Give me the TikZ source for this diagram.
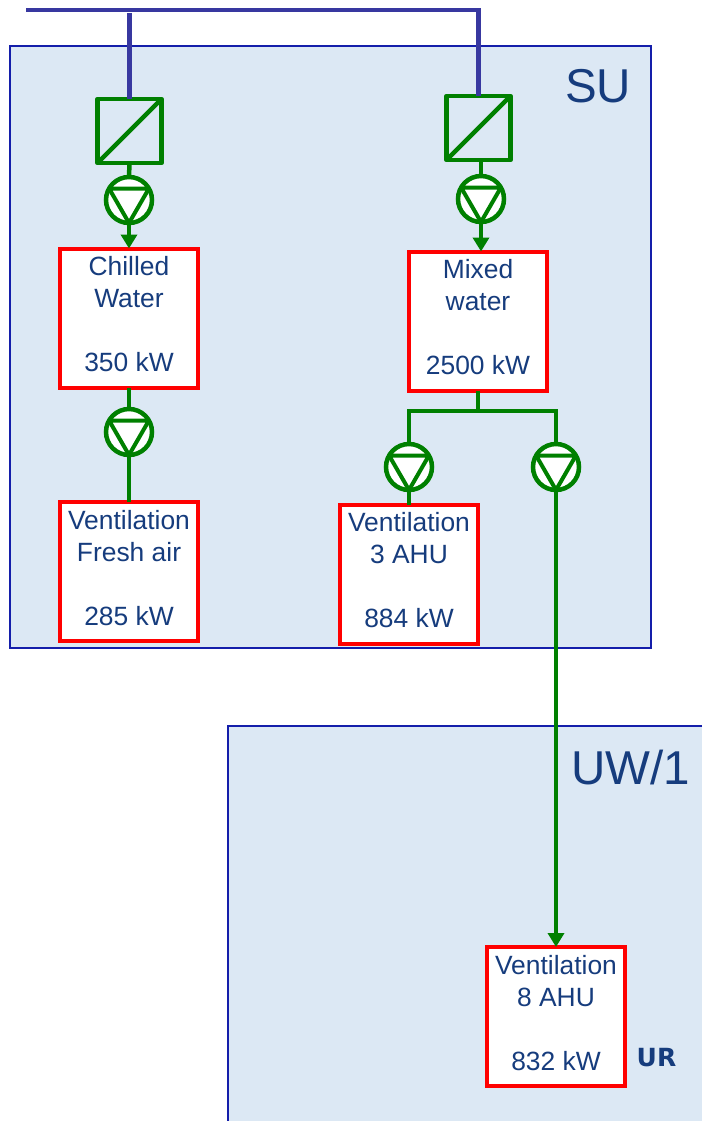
\documentclass[tikz,border=0pt]{standalone}
\usepackage{fontspec}
\setmainfont{Liberation Sans}
\newfontfamily\urfont[BoldFont={DejaVu Sans Bold}]{DejaVu Sans}
\usetikzlibrary{arrows.meta}
\definecolor{zonefill}{RGB}{220,232,244}
\definecolor{zoneline}{RGB}{20,30,170}
\definecolor{busline}{RGB}{56,56,160}
\definecolor{pipe}{RGB}{0,128,0}
\definecolor{txt}{RGB}{22,60,125}
\tikzset{
  x=1pt,y=-1pt,
  zoneedge/.style={draw=zoneline,line width=1.2pt},
  bus/.style={draw=busline,line width=4.5pt},
  pipeline/.style={draw=pipe,line width=4.5pt},
  flow/.style={pipeline,-{Triangle[length=14pt,width=16pt]}},
  load/.style={draw=red,fill=white,line width=4pt,minimum width=138pt,minimum height=139pt,inner sep=0pt,outer sep=0pt,text=txt,
    font=\fontsize{26.4}{32}\selectfont,align=center,anchor=center},
  exch/.style={draw=pipe,line width=4.5pt,minimum size=64pt,inner sep=0pt,outer sep=0pt,line join=round},
  pumpc/.style={circle,draw=pipe,fill=white,line width=4.5pt,minimum size=46pt,inner sep=0pt,outer sep=0pt},
  zonelabel/.style={text=txt,font=\fontsize{47.5}{47.5}\selectfont,inner sep=0pt},
}
\newcommand{\pumpsym}[1]{%
  \draw[pipe,line width=4pt,line join=round] (#1.150) -- (#1.30) -- (#1.south) -- cycle;}
\newcommand{\lastln}[1]{#1\rule[-8pt]{0pt}{8pt}}
\begin{document}
\begin{tikzpicture}
\useasboundingbox (0,0) rectangle (702,1121);
% zones
\fill[zonefill] (10,46) rectangle (651,648);
\draw[zoneedge] (10,46) rectangle (651,648);
\fill[zonefill] (228,726) rectangle (702,1121);
\draw[zoneedge] (702,726) -- (228,726) -- (228,1121);
\node[zonelabel] (su) at (598,86) {SU};
\node[zonelabel] (uw) at (631,768) {UW/1};
% loads
\node[load] (chilled) at (129,318) {Chilled\\Water\\[32pt]\lastln{350 kW}};
\node[load] (mixed) at (478,321) {Mixed\\water\\[32pt]\lastln{2500 kW}};
\node[load] (fresh) at (129,571.5) {Ventilation\\Fresh air\\[32pt]\lastln{285 kW}};
\node[load] (ahu3) at (409,574) {Ventilation\\3 AHU\\[32pt]\lastln{884 kW}};
\node[load] (ahu8) at (556,1016.5) {Ventilation\\8 AHU\\[32pt]\lastln{832 kW}};
% exchangers
\node[exch] (ex1) at (129.5,131) {};
\node[exch] (ex2) at (478.5,128) {};
\draw[pipe,line width=4.5pt] (ex1.south west) -- (ex1.north east);
\draw[pipe,line width=4.5pt] (ex2.south west) -- (ex2.north east);
% bus
\coordinate (busL) at (26,10);
\coordinate (busR) at (481,10);
\draw[bus] (busL) -- (busR);
\draw[bus] (ex1.north |- 0,13) -- (ex1.north);
\draw[bus] (ex2.north |- busR) -- (ex2.north);
% pumps
\node[pumpc] (p1) at (129,200) {};
\node[pumpc] (p2) at (481,199) {};
\node[pumpc] (p3) at (129,432) {};
\node[pumpc] (p4) at (409,467) {};
\node[pumpc] (p5) at (556,467) {};
% connectors
\draw[pipeline] (ex1.south) -- (p1.north);
\draw[pipeline] (p2.north |- ex2.south) -- (p2.north);
\draw[flow] (p1.south) -- (chilled.north);
\draw[flow] (p2.south) -- (mixed.north -| p2.south);
\draw[pipeline] (chilled.south) -- (p3.north);
\draw[pipeline] (p3.south) -- (fresh.north);
\coordinate (split) at (478,411);
\draw[pipeline] (mixed.south) -- (split);
\draw[pipeline] (p4.north) |- (split);
\draw[pipeline] (p5.north) |- (split);
\draw[pipeline] (p4.south) -- (ahu3.north);
\draw[flow] (p5.south) -- (ahu8.north);
\pumpsym{p1}\pumpsym{p2}\pumpsym{p3}\pumpsym{p4}\pumpsym{p5}
\node[text=txt,font=\urfont\bfseries\fontsize{25}{25}\selectfont,inner sep=0pt] (ur) at (656.5,1058) {UR};
\end{tikzpicture}
\end{document}
